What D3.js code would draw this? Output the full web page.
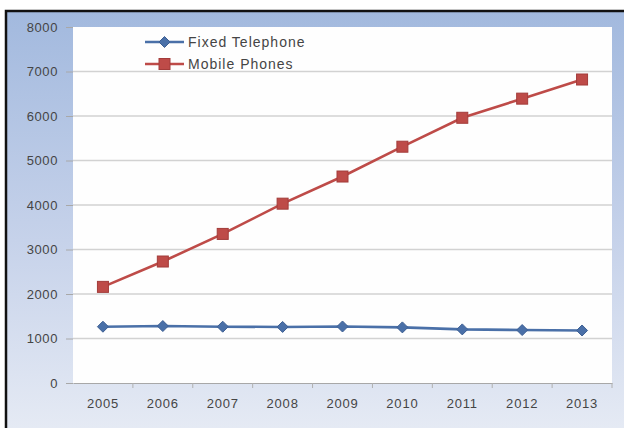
<!DOCTYPE html>
<html lang="en">
<head>
  <meta charset="UTF-8">
  <title>Fixed Telephone vs Mobile Phones</title>
  <script src="https://cdn.jsdelivr.net/npm/d3@7"></script>
  <style>
    html, body { margin: 0; padding: 0; background: #fff; overflow: hidden; }
    svg { display: block; }
  </style>
</head>
<body>
  <script>
    // ------------- Data -------------
    const years = ["2005", "2006", "2007", "2008", "2009", "2010", "2011", "2012", "2013"];
    const fixedTelephone = [1265, 1280, 1265, 1260, 1270, 1250, 1205, 1190, 1180];
    const mobilePhones   = [2160, 2730, 3350, 4030, 4640, 5310, 5960, 6390, 6820];
    const yTicks = [0, 1000, 2000, 3000, 4000, 5000, 6000, 7000, 8000];

    const series = [
      { name: "Fixed Telephone", values: fixedTelephone, color: "#4a70a8", marker: "diamond" },
      { name: "Mobile Phones",   values: mobilePhones,   color: "#be4b48", marker: "square" }
    ];

    // ------------- Layout -------------
    const width = 624, height = 428;
    const frame = { x: 6, y: 11 };
    const plot = { left: 73, right: 612, top: 27, bottom: 383 };
    const font = "'Liberation Sans', Arial, sans-serif";

    const svg = d3.select("body").append("svg")
      .attr("width", width)
      .attr("height", height);

    const defs = svg.append("defs");
    const bg = defs.append("linearGradient")
      .attr("id", "bg-grad")
      .attr("x1", 0).attr("y1", 0).attr("x2", 0).attr("y2", 1);
    bg.append("stop").attr("offset", "0%").attr("stop-color", "#a2b9de");
    bg.append("stop").attr("offset", "55%").attr("stop-color", "#c6d2ea");
    bg.append("stop").attr("offset", "100%").attr("stop-color", "#e5eaf4");

    // chart area background + frame
    svg.append("rect")
      .attr("x", frame.x).attr("y", frame.y)
      .attr("width", width - frame.x).attr("height", height - frame.y)
      .attr("fill", "url(#bg-grad)");
    svg.append("path")
      .attr("d", `M${frame.x},${height} V${frame.y} H${width}`)
      .attr("fill", "none")
      .attr("stroke", "#111")
      .attr("stroke-width", 2.5);

    // plot area
    svg.append("rect")
      .attr("x", plot.left).attr("y", plot.top)
      .attr("width", plot.right - plot.left).attr("height", plot.bottom - plot.top)
      .attr("fill", "#fefefe");

    // ------------- Scales -------------
    const x = d3.scaleBand()
      .domain(years)
      .range([plot.left, plot.right]);
    const y = d3.scaleLinear()
      .domain([0, 8000])
      .range([plot.bottom, plot.top]);

    // ------------- Gridlines & Axes -------------
    svg.append("g")
      .selectAll("line")
      .data(yTicks.filter(d => d > 0 && d < 8000))
      .join("line")
      .attr("x1", plot.left).attr("x2", plot.right)
      .attr("y1", d => y(d)).attr("y2", d => y(d))
      .attr("stroke", "#d2d2d2")
      .attr("stroke-width", 1.5);

    const yAxis = svg.append("g")
      .attr("transform", `translate(${plot.left},0)`)
      .call(d3.axisLeft(y).tickValues(yTicks).tickSize(7).tickPadding(8).tickFormat(d3.format("d")));
    yAxis.select(".domain").remove();
    yAxis.selectAll(".tick line").attr("stroke", "#a8a8a8");
    yAxis.selectAll("text")
      .attr("fill", "#454545")
      .style("font-family", font)
      .style("font-size", "13px")
      .style("letter-spacing", "0.6px");

    const xAxis = svg.append("g")
      .attr("transform", `translate(0,${plot.bottom})`)
      .call(d3.axisBottom(x).tickSize(0).tickPadding(16));
    xAxis.select(".domain").attr("stroke", "#a8a8a8").attr("stroke-width", 1.2);
    xAxis.selectAll("text")
      .attr("fill", "#454545")
      .style("font-family", font)
      .style("font-size", "13px")
      .style("letter-spacing", "0.8px");
    // category boundary ticks
    xAxis.append("g")
      .selectAll("line")
      .data(years.slice(1).concat(["end"]))
      .join("line")
      .attr("x1", (d, i) => i < years.length - 1 ? x(d) : plot.right)
      .attr("x2", (d, i) => i < years.length - 1 ? x(d) : plot.right)
      .attr("y1", 0).attr("y2", 5)
      .attr("stroke", "#b0b0b0");

    // ------------- Series -------------
    const line = d3.line()
      .x((d, i) => x(years[i]) + x.bandwidth() / 2)
      .y(d => y(d));

    function drawMarker(g, type, color) {
      if (type === "square") {
        g.append("rect")
          .attr("x", -5.5).attr("y", -5.5)
          .attr("width", 11).attr("height", 11)
          .attr("fill", color)
          .attr("stroke", "#a33c3a").attr("stroke-width", 1);
      } else {
        g.append("path")
          .attr("d", "M0,-5.5 L5.5,0 L0,5.5 L-5.5,0 Z")
          .attr("fill", color)
          .attr("stroke", "#3d5f93").attr("stroke-width", 1);
      }
    }

    series.forEach(s => {
      svg.append("path")
        .datum(s.values)
        .attr("d", line)
        .attr("fill", "none")
        .attr("stroke", s.color)
        .attr("stroke-width", 2.6);

      s.values.forEach((v, i) => {
        const g = svg.append("g")
          .attr("transform", `translate(${x(years[i]) + x.bandwidth() / 2},${y(v)})`);
        drawMarker(g, s.marker, s.color);
      });
    });

    // ------------- Legend -------------
    const legend = svg.append("g").attr("transform", "translate(145,42)");
    series.forEach((s, i) => {
      const g = legend.append("g").attr("transform", `translate(0,${i * 22})`);
      g.append("line")
        .attr("x1", 0).attr("x2", 39)
        .attr("stroke", s.color)
        .attr("stroke-width", 2.6);
      const m = g.append("g").attr("transform", "translate(19.5,0)");
      drawMarker(m, s.marker, s.color);
      g.append("text")
        .attr("x", 43).attr("y", 0)
        .attr("dy", "0.35em")
        .attr("fill", "#454545")
        .style("font-family", font)
        .style("font-size", "14px")
        .style("letter-spacing", "1px")
        .text(s.name);
    });
  </script>
</body>
</html>
